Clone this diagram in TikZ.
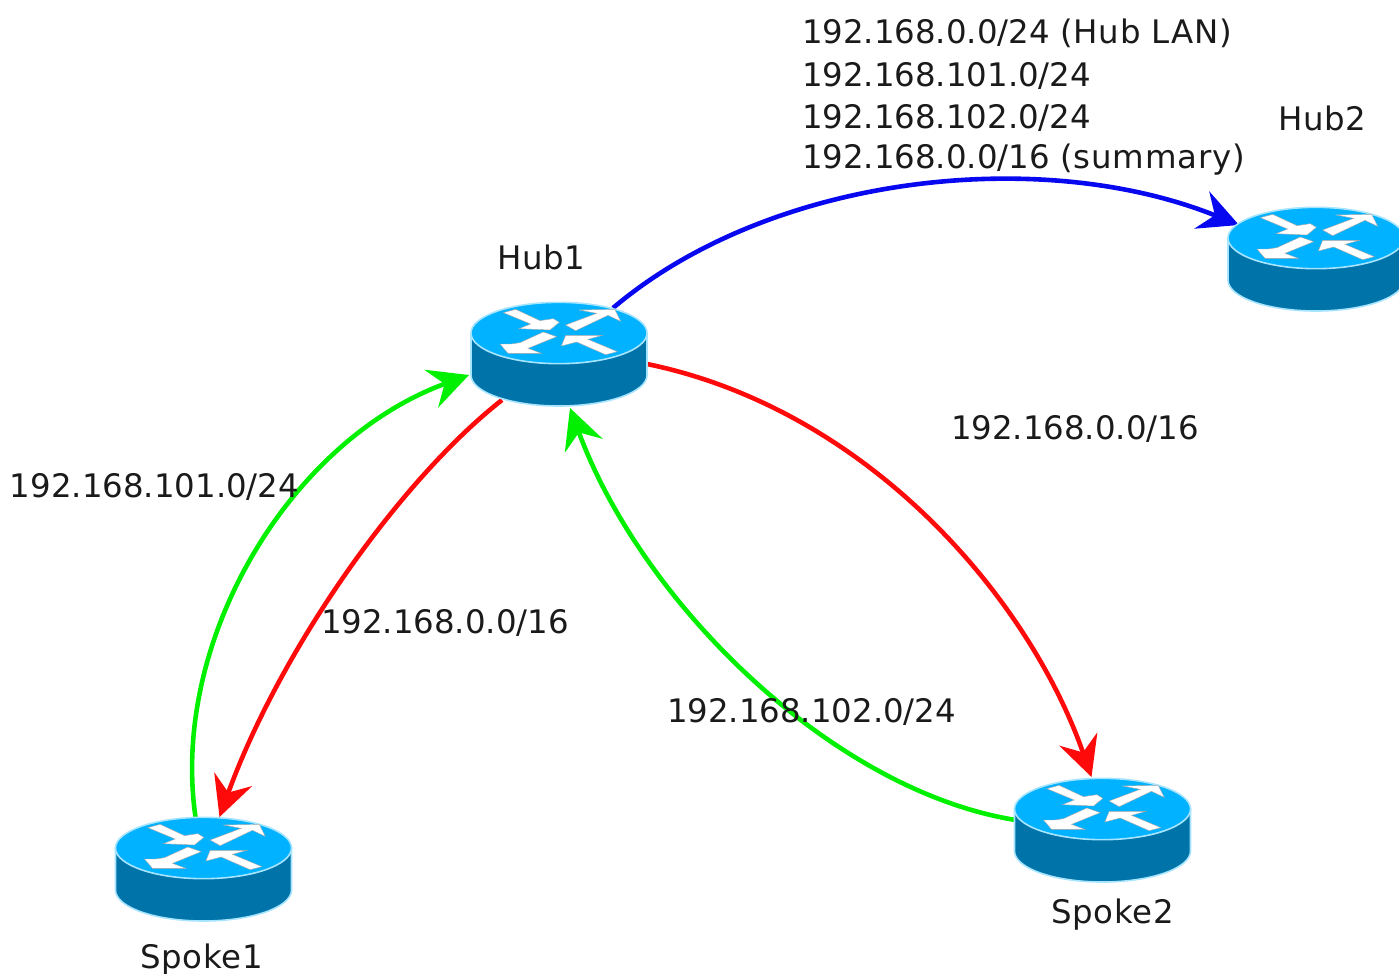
\documentclass[tikz,border=0pt]{standalone}
\usepackage{fontspec}
\setmainfont{DejaVu Sans}
\newfontfamily\lsfont[LetterSpace=2.5]{DejaVu Sans}
\usetikzlibrary{arrows.meta}
\definecolor{rtop}{HTML}{00B2FF}
\definecolor{rside}{HTML}{0073A8}
\definecolor{rhalo}{HTML}{A6E4FF}
\definecolor{lgreen}{HTML}{00F000}
\definecolor{lred}{HTML}{FF0A0A}
\definecolor{lblue}{HTML}{0808F0}
\definecolor{ink}{HTML}{1A1A1A}
\tikzset{
  routerbox/.style={minimum width=88pt,minimum height=52pt,inner sep=0pt,outer sep=0pt},
  lbl/.style={anchor=base west,inner sep=0pt,outer sep=0pt,text=ink,font=\fontsize{16.2}{18}\selectfont},
  link/.style={line width=2.3pt,-{Stealth[length=20pt,width=20pt,inset=7pt]}},
  whitearrow/.style={fill=white,draw=black!35,line width=0.2pt}
}
\newcommand{\routericon}[1]{%
  \begin{scope}[shift={(#1)},x=0.1667pt,y=-0.1667pt]
    % coordinates are 3x reference pixels, origin at centre of top ellipse
    \path[fill=rside,draw=rhalo,line width=0.8pt]
      (-264,0) -- (-264,126) arc[start angle=180,end angle=0,x radius=264,y radius=93]
      -- (264,0) -- cycle;
    \path[fill=rtop,draw=rhalo,line width=0.8pt] (0,0) ellipse[x radius=264,y radius=92];
    \begin{scope}[shift={(-325,-159)}]
      \path[whitearrow] (158,98) -- (195,88) -- (268,122) -- (308,116) -- (326,127) -- (298,150) -- (205,146) -- (240,132) -- cycle;
      \path[whitearrow] (345,135) -- (438,100) -- (385,90) -- (492,88) -- (510,124) -- (472,106) -- (375,152) -- cycle;
      \path[whitearrow] (148,192) -- (172,220) -- (272,220) -- (232,205) -- (318,170) -- (278,156) -- (208,188) -- (182,192) -- cycle;
      \path[whitearrow] (332,198) -- (345,166) -- (455,166) -- (412,178) -- (500,215) -- (465,224) -- (378,186) -- cycle;
    \end{scope}
  \end{scope}}
\begin{document}
\begin{tikzpicture}[x=0.5pt,y=-0.5pt]
  \useasboundingbox (0,0) rectangle (1399,974);
  \clip (0,0) rectangle (1399,974);
  \coordinate (c1) at (559,333);
  \coordinate (c2) at (1316,238);
  \coordinate (c3) at (203.5,848);
  \coordinate (c4) at (1102.5,809);
  \node[routerbox] (hub1) at (559,354) {};
  \node[routerbox] (hub2) at (1316,259) {};
  \node[routerbox] (spoke1) at (203.5,869) {};
  \node[routerbox] (spoke2) at (1102.5,830) {};

  \draw[link,lblue] ([shift={(54,-46)}]hub1.center) .. controls (770,175) and (1040,145) .. ([shift={(-77,-34)}]hub2.center);
  \draw[link,lred] ([shift={(88,10)}]hub1.center) .. controls (870,410) and (1030,600) .. ([shift={(-11,-53)}]spoke2.center);
  \draw[link,lgreen] ([shift={(-87,-10)}]spoke2.center) .. controls (830,790) and (640,600) .. ([shift={(11,54)}]hub1.center);
  \draw[link,lred] ([shift={(-57,46)}]hub1.center) .. controls (400,480) and (280,650) .. ([shift={(16,-52)}]spoke1.center);
  \draw[link,lgreen] ([shift={(-8,-52)}]spoke1.center) .. controls (170,640) and (290,440) .. ([shift={(-90,21)}]hub1.center);

  \routericon{c1}\routericon{c2}\routericon{c3}\routericon{c4}

  \node[lbl] (t1) at (802,44) {192.168.0.0/24 {\lsfont (Hub LAN)}};
  \node[lbl] (t2) at (802,87) {192.168.101.0/24};
  \node[lbl] (t3) at (802,129) {192.168.102.0/24};
  \node[lbl] (t4) at (802,169) {192.168.0.0/16 {\lsfont (summary)}};
  \node[lbl] (n2) at (1278,131) {\lsfont Hub2};
  \node[lbl] (n1) at (497,270) {\lsfont Hub1};
  \node[lbl] (a1) at (951,439) {192.168.0.0/16};
  \node[lbl] (a2) at (10,497) {192.168.101.0/24};
  \node[lbl] (a3) at (321,633) {192.168.0.0/16};
  \node[lbl] (a4) at (667,722) {192.168.102.0/24};
  \node[lbl] (n4) at (1051,923) {\lsfont Spoke2};
  \node[lbl] (n3) at (140,968) {\lsfont Spoke1};
\end{tikzpicture}
\end{document}
